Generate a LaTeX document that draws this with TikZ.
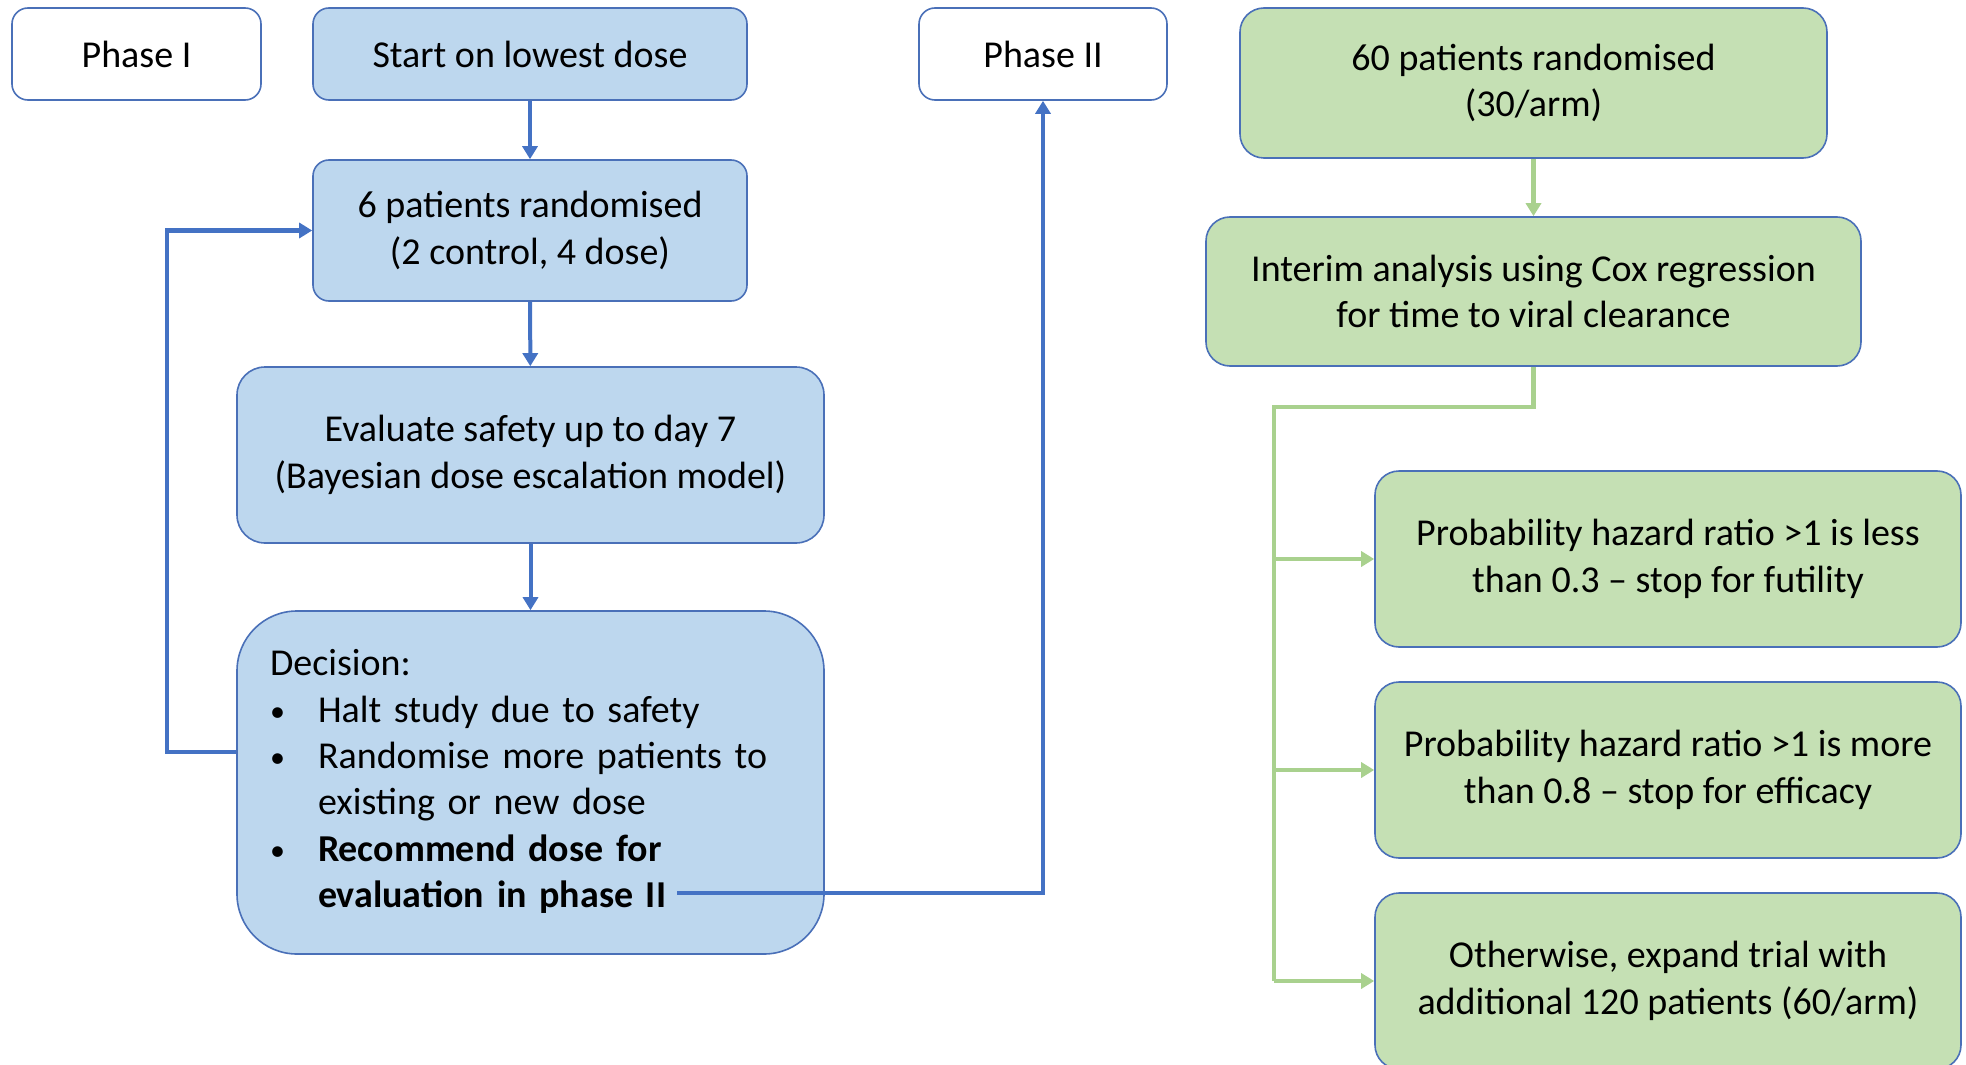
\documentclass[tikz,border=0pt]{standalone}
\usepackage{fontspec}
\setmainfont{Carlito}
\usetikzlibrary{arrows.meta,calc}
\definecolor{bfill}{HTML}{BDD7EE}
\definecolor{gfill}{HTML}{C5E0B4}
\definecolor{bconncol}{HTML}{4472C4}
\definecolor{bedge}{HTML}{4A70B8}
\definecolor{gconncol}{HTML}{A9D18E}
\newcommand{\smallbul}{\raisebox{0.5pt}{\fontsize{15}{15}\selectfont\textbullet}}
\begin{document}
\begin{tikzpicture}[x=0.5pt,y=-0.5pt,
  box/.style={draw=bedge, line width=0.8pt, rounded corners=8pt, align=center, inner sep=0pt,
    font=\fontsize{19}{23.2}\selectfont},
  bluebox/.style={box, fill=bfill},
  greenbox/.style={box, fill=gfill, rounded corners=12pt},
  phasebox/.style={box, fill=white},
  bconn/.style={draw=bconncol, line width=2pt},
  barrow/.style={bconn, -{Triangle[length=6.5pt,width=7.5pt]}},
  bthick/.style={barrow, line width=2.4pt},
  gconn/.style={draw=gconncol, line width=2.2pt},
  garrow/.style={gconn, -{Triangle[length=6.5pt,width=7.5pt]}}
]
\useasboundingbox (0,0) rectangle (1966,1065);
\clip (0,0) rectangle (1966,1065);

% Phase I column
\node[phasebox, minimum width=124.5pt, minimum height=46pt] (ph1) at (136.5,54) {Phase I};
\node[bluebox, minimum width=217pt, minimum height=46pt] (start) at (530,54) {Start on lowest dose};
\node[bluebox, minimum width=217pt, minimum height=70.5pt] (six) at (530,230.5) {6 patients randomised\\(2 control, 4 dose)};
\node[bluebox, minimum width=293.5pt, minimum height=88pt, rounded corners=14pt] (eval) at (530.5,455) {Evaluate safety up to day 7\\(Bayesian dose escalation model)};
\node[bluebox, minimum width=293.5pt, minimum height=171.5pt, rounded corners=30pt,
      text width=260.5pt, inner xsep=16.5pt, align=left] (dec) at (530.5,782.5)
  {\noindent\begin{tabular}{@{}p{24pt}@{}l@{}}
   \multicolumn{2}{@{}l@{}}{Decision:}\\
   \smallbul & Halt study due to safety\\
   \smallbul & Randomise more patients to\\
             & existing or new dose\\
   \smallbul & \textbf{Recommend dose for}\\
             & \textbf{evaluation in phase II}
   \end{tabular}};

% Phase II column
\node[phasebox, minimum width=124pt, minimum height=46pt] (ph2) at (1043,54) {Phase II};
\node[greenbox, minimum width=293.5pt, minimum height=75pt] (sixty) at (1533.5,83) {60 patients randomised\\(30/arm)};
\node[greenbox, minimum width=327.5pt, minimum height=74.5pt] (interim) at (1533.5,291.5) {Interim analysis using Cox regression\\for time to viral clearance};
\node[greenbox, minimum width=293pt, minimum height=88pt] (pless) at (1668,559) {Probability hazard ratio >1 is less\\than 0.3 -- stop for futility};
\node[greenbox, minimum width=293pt, minimum height=88pt] (pmore) at (1668,770) {Probability hazard ratio >1 is more\\than 0.8 -- stop for efficacy};
\node[greenbox, minimum width=293pt, minimum height=88pt] (other) at (1668,981) {Otherwise, expand trial with\\additional 120 patients (60/arm)};

% blue connectors
\draw[barrow] (start) -- (six);
\draw[barrow] (six) -- (eval);
\draw[barrow] (eval) -- (dec);
\coordinate (loopx) at (167,752);
\draw[bthick] ([yshift=15.25pt]dec.west) -- (loopx) |- (six.west);
\coordinate (recEnd) at (677,893);
\draw[bthick] (recEnd) -| (ph2.south);

% green connectors
\draw[garrow] (sixty) -- (interim);
\coordinate (bus) at (1274,407);
\draw[gconn] (interim.south) |- (bus) -- (bus |- other.west);
\draw[garrow] (bus |- pless.west) -- (pless.west);
\draw[garrow] (bus |- pmore.west) -- (pmore.west);
\draw[garrow] (bus |- other.west) -- (other.west);
\end{tikzpicture}
\end{document}
